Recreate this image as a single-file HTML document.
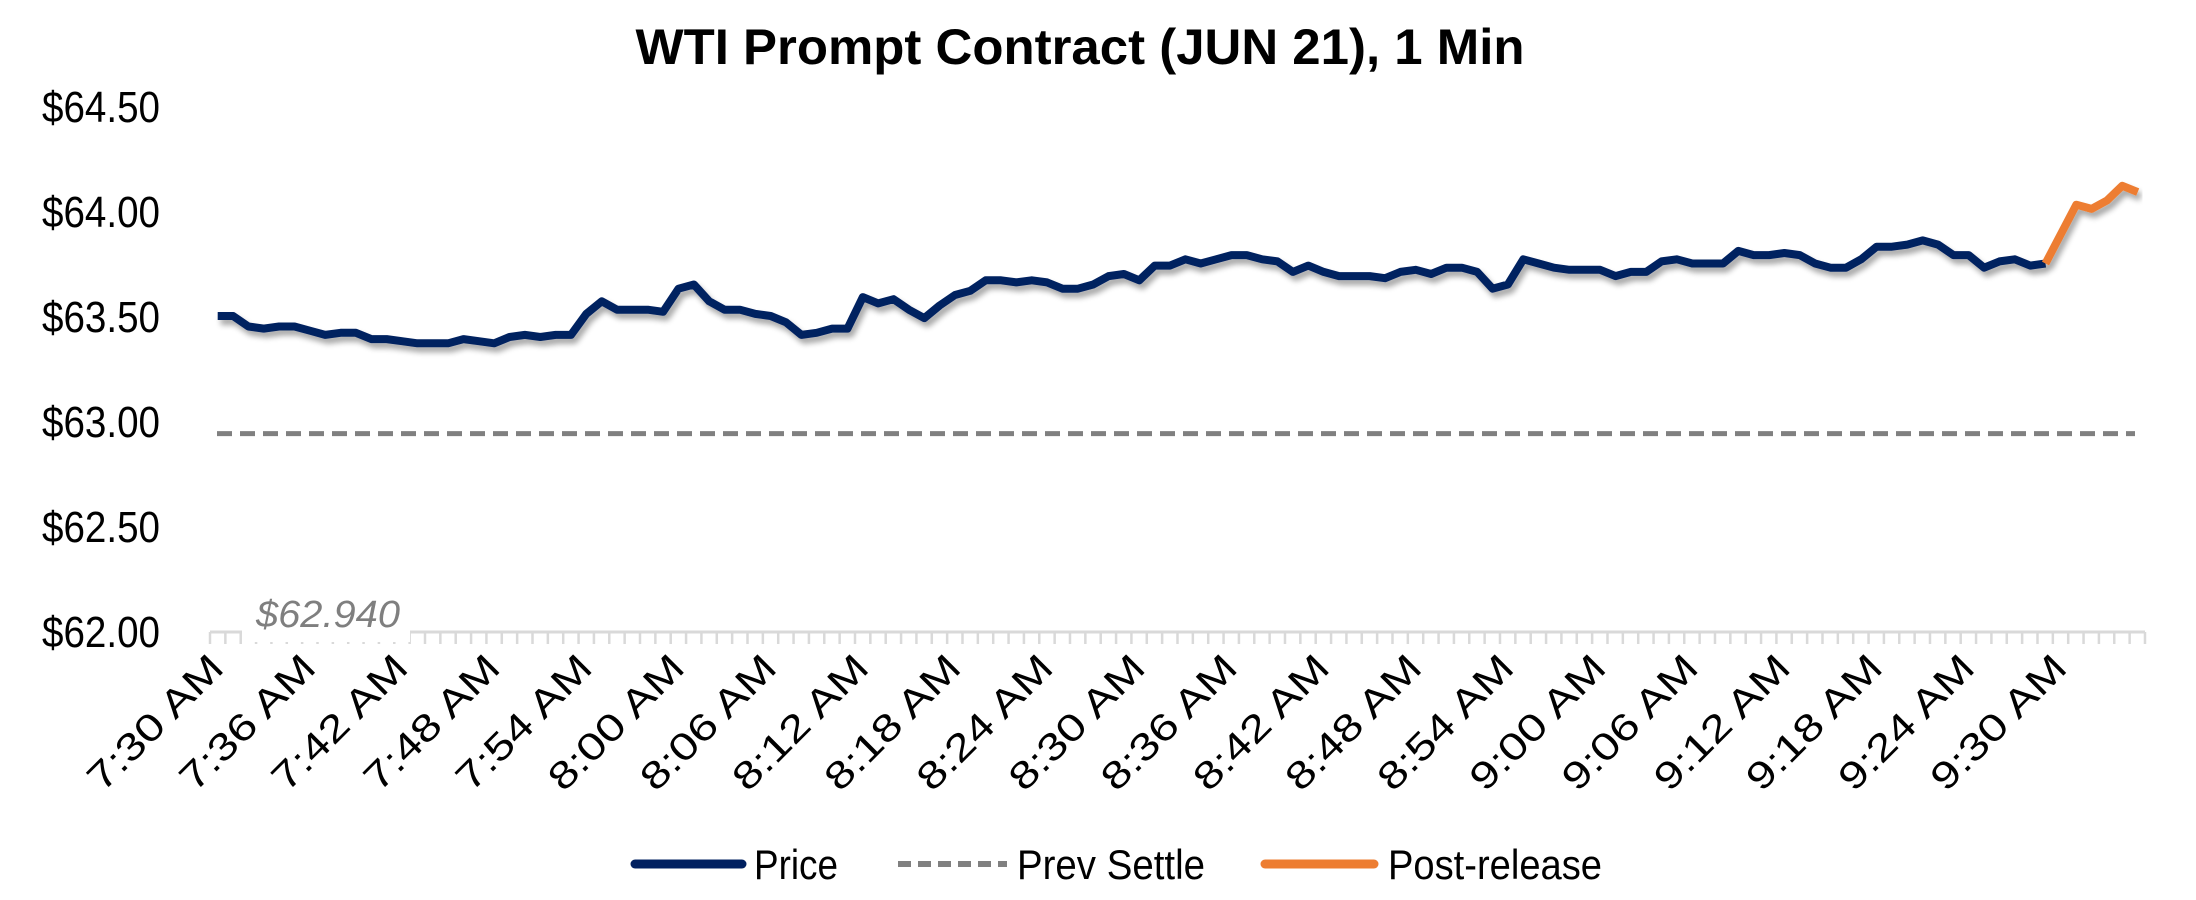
<!DOCTYPE html>
<html><head><meta charset="utf-8"><style>
html,body{margin:0;padding:0;background:#fff;}
svg{display:block;font-family:"Liberation Sans",sans-serif;}
</style></head><body>
<svg id="s" width="2196" height="900" viewBox="0 0 2196 900" xmlns="http://www.w3.org/2000/svg">
<defs><filter id="sh" x="-5%" y="-20%" width="110%" height="140%"><feGaussianBlur in="SourceAlpha" stdDeviation="3"/><feOffset dx="3" dy="5"/><feComponentTransfer><feFuncA type="linear" slope="0.35"/></feComponentTransfer><feMerge><feMergeNode/><feMergeNode in="SourceGraphic"/></feMerge></filter></defs>
<text x="1080" y="64" text-anchor="middle" font-size="50" font-weight="bold" textLength="889" lengthAdjust="spacingAndGlyphs">WTI Prompt Contract (JUN 21), 1 Min</text>
<g font-size="44" text-anchor="end" fill="#000">
<text x="160" y="122" textLength="118" lengthAdjust="spacingAndGlyphs">$64.50</text>
<text x="160" y="227" textLength="118" lengthAdjust="spacingAndGlyphs">$64.00</text>
<text x="160" y="332" textLength="118" lengthAdjust="spacingAndGlyphs">$63.50</text>
<text x="160" y="437" textLength="118" lengthAdjust="spacingAndGlyphs">$63.00</text>
<text x="160" y="542" textLength="118" lengthAdjust="spacingAndGlyphs">$62.50</text>
<text x="160" y="647" textLength="118" lengthAdjust="spacingAndGlyphs">$62.00</text>
</g>
<g id="axis"></g>
<rect x="242" y="590" width="168" height="52" fill="#fff"/>
<text x="256" y="627" font-size="38" font-style="italic" fill="#7f7f7f" textLength="144" lengthAdjust="spacingAndGlyphs">$62.940</text>
<line x1="217" y1="433.6" x2="2135" y2="433.6" stroke="#808080" stroke-width="5" stroke-dasharray="15,8"/>
<g id="lines"></g>
<g id="xl" font-size="38"></g>
<line x1="635" y1="864" x2="742" y2="864" stroke="#002060" stroke-width="9" stroke-linecap="round"/>
<text x="754" y="879" font-size="42" textLength="84" lengthAdjust="spacingAndGlyphs">Price</text>
<line x1="898" y1="864" x2="1007" y2="864" stroke="#808080" stroke-width="6" stroke-dasharray="13,7"/>
<text x="1017" y="879" font-size="42" textLength="188" lengthAdjust="spacingAndGlyphs">Prev Settle</text>
<line x1="1265" y1="864" x2="1374" y2="864" stroke="#ED7D31" stroke-width="9" stroke-linecap="round"/>
<text x="1388" y="879" font-size="42" textLength="214" lengthAdjust="spacingAndGlyphs">Post-release</text>
</svg>
<script>
var NS="http://www.w3.org/2000/svg";
function X(i){return 217.7+i*15.36;}
function Y(v){return 631-(v-62)*210;}
var blue=[63.50,63.50,63.45,63.44,63.45,63.45,63.43,63.41,63.42,63.42,63.39,63.39,63.38,63.37,63.37,63.37,63.39,63.38,63.37,63.40,63.41,63.40,63.41,63.41,63.51,63.57,63.53,63.53,63.53,63.52,63.63,63.65,63.57,63.53,63.53,63.51,63.50,63.47,63.41,63.42,63.44,63.44,63.59,63.56,63.58,63.53,63.49,63.55,63.60,63.62,63.67,63.67,63.66,63.67,63.66,63.63,63.63,63.65,63.69,63.70,63.67,63.74,63.74,63.77,63.75,63.77,63.79,63.79,63.77,63.76,63.71,63.74,63.71,63.69,63.69,63.69,63.68,63.71,63.72,63.70,63.73,63.73,63.71,63.63,63.65,63.77,63.75,63.73,63.72,63.72,63.72,63.69,63.71,63.71,63.76,63.77,63.75,63.75,63.75,63.81,63.79,63.79,63.80,63.79,63.75,63.73,63.73,63.77,63.83,63.83,63.84,63.86,63.84,63.79,63.79,63.73,63.76,63.77,63.74,63.75];
var n=blue.length, pb=[];
for(var k=0;k<n;k++){pb.push(X(k*119/(n-1)).toFixed(1)+","+Y(blue[k]).toFixed(1));}
var orange=[[119,63.75],[121,64.03],[122,64.01],[123,64.05],[124,64.12],[125,64.09]];
var po=orange.map(function(p){return X(p[0]).toFixed(1)+","+Y(p[1]).toFixed(1);});
var g=document.getElementById("lines");
function pl(pts,col){var e=document.createElementNS(NS,"polyline");e.setAttribute("points",pts.join(" "));e.setAttribute("fill","none");e.setAttribute("stroke",col);e.setAttribute("stroke-width","8");e.setAttribute("stroke-linejoin","round");e.setAttribute("filter","url(#sh)");g.appendChild(e);}
pl(pb,"#002060");pl(po,"#ED7D31");
var a=document.getElementById("axis");
var L=document.createElementNS(NS,"line");L.setAttribute("x1","210");L.setAttribute("x2","2145");L.setAttribute("y1","632");L.setAttribute("y2","632");L.setAttribute("stroke","#d9d9d9");L.setAttribute("stroke-width","3");a.appendChild(L);
for(var t=0;t<=126;t++){var x=210+t*15.357;var l=document.createElementNS(NS,"line");l.setAttribute("x1",x);l.setAttribute("x2",x);l.setAttribute("y1","632");l.setAttribute("y2","644");l.setAttribute("stroke","#d9d9d9");l.setAttribute("stroke-width","2.5");a.appendChild(l);}
var labs=["7:30 AM","7:36 AM","7:42 AM","7:48 AM","7:54 AM","8:00 AM","8:06 AM","8:12 AM","8:18 AM","8:24 AM","8:30 AM","8:36 AM","8:42 AM","8:48 AM","8:54 AM","9:00 AM","9:06 AM","9:12 AM","9:18 AM","9:24 AM","9:30 AM"];
var xl=document.getElementById("xl");
labs.forEach(function(s,j){var x=X(j*6)+8,y=670;var e=document.createElementNS(NS,"text");e.setAttribute("x",x);e.setAttribute("y",y);e.setAttribute("text-anchor","end");e.setAttribute("transform","rotate(-45 "+x+" "+y+")");e.setAttribute("textLength","174");e.setAttribute("lengthAdjust","spacingAndGlyphs");e.textContent=s;xl.appendChild(e);});
</script>
</body></html>
